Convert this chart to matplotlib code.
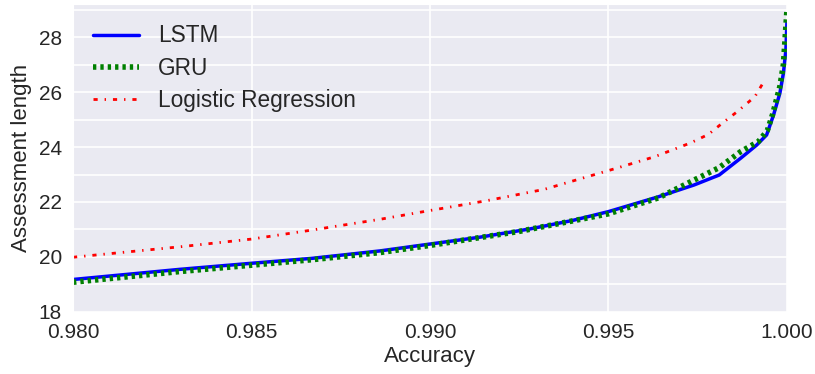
import numpy as np
import matplotlib
matplotlib.use('Agg')
import matplotlib.pyplot as plt
import seaborn as sns

sns.set_style('darkgrid')
plt.rcParams['font.family'] = ['Liberation Sans', 'DejaVu Sans']
plt.rcParams['lines.scale_dashes'] = False
FS = 15

# curves
lstm_x = [0.9800, 0.9830, 0.9850, 0.9867, 0.9886, 0.9900, 0.9914, 0.9928, 0.9940,
          0.9950, 0.9964, 0.9974, 0.9981, 0.9987, 0.99915, 0.99943, 0.99962,
          0.9998, 0.9999, 0.99997, 1.0000]
lstm_y = [19.18, 19.55, 19.77, 19.95, 20.22, 20.47, 20.72, 21.02, 21.33,
          21.65, 22.19, 22.62, 22.98, 23.59, 24.07, 24.44, 25.15,
          25.95, 26.68, 27.53, 28.56]

gru_x = [0.9800, 0.9830, 0.9850, 0.9867, 0.9886, 0.9900, 0.9925, 0.9950, 0.9964,
         0.9974, 0.9981, 0.9987, 0.9992, 0.99945, 0.9996, 0.9998, 0.9999, 1.0000]
gru_y = [19.08, 19.47, 19.70, 19.90, 20.16, 20.42, 20.93, 21.57, 22.15,
         22.80, 23.25, 23.83, 24.20, 24.60, 25.20, 26.20, 27.00, 29.00]

lr_x = [0.9800, 0.9830, 0.9850, 0.9867, 0.9886, 0.9900, 0.9916, 0.9932, 0.9942,
        0.9952, 0.9963, 0.9973, 0.9978, 0.9982, 0.9986, 0.9991, 0.99938]
lr_y = [19.99, 20.37, 20.65, 20.98, 21.37, 21.69, 22.05, 22.46, 22.84,
        23.22, 23.65, 24.15, 24.46, 24.88, 25.28, 25.83, 26.44]

fig = plt.figure(figsize=(8.15, 3.74), dpi=100)
ax = fig.add_axes([0.0896, 0.166, 0.876, 0.823])

ax.plot(lstm_x, lstm_y, color='b', linewidth=2.5, label='LSTM')
ax.plot(gru_x, gru_y, color='g', linewidth=4, linestyle=(0, (2.4, 2.9)), label='GRU')
ax.plot(lr_x, lr_y, color='r', linewidth=2, linestyle=(0, (3, 5, 1, 5)),
        label='Logistic Regression')

ax.set_xlim(0.980, 1.000)
ax.set_ylim(18, 29.2)
ax.set_xticks([0.980, 0.985, 0.990, 0.995, 1.000])
ax.set_xticklabels(['0.980', '0.985', '0.990', '0.995', '1.000'])
ax.set_yticks(np.arange(18, 29, 2))
ax.set_yticks(np.arange(19, 30, 2), minor=True)
ax.grid(True, which='both', color='white', linewidth=1.2)
ax.tick_params(labelsize=FS, pad=8)
ax.tick_params(which='both', length=0)

ax.set_xlabel('Accuracy', fontsize=16, labelpad=3)
ax.set_ylabel('Assessment length', fontsize=16, labelpad=5)

ax.legend(loc='upper left', frameon=False, fontsize=16.3, handlelength=2.0,
          handletextpad=0.85, labelspacing=0.4)

fig.savefig('out.png', dpi=100)
